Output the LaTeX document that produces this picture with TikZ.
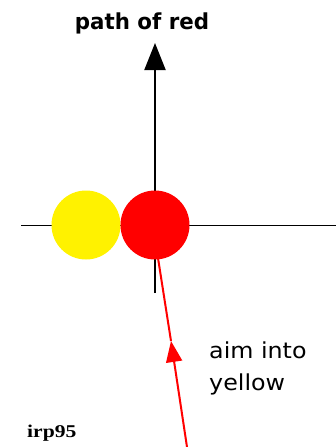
\documentclass[tikz,border=0pt]{standalone}
\usepackage{fontspec}
\setmainfont{DejaVu Sans}
\newfontfamily\serifbold{Liberation Serif}
\usetikzlibrary{arrows.meta}
\begin{document}
\begin{tikzpicture}[x=1pt,y=-1pt,
  ball/.style={circle,inner sep=0pt,minimum size=69pt},
  lbl/.style={inner sep=0pt,align=left},
  redline/.style={draw=red,line width=2pt}]
\useasboundingbox (0,0) rectangle (336,447);
\draw[line width=1pt] (21,225) -- (336,225);
\node[ball,fill=yellow] (yellow) at (86,225) {};
\coordinate (vbot) at (155,293);
\coordinate (vtop) at (155,43);
\draw[line width=2pt,-{Triangle[length=27pt,width=21pt]}] (vbot) -- (vtop);
\node[ball,fill=red] (red) at (155,225) {};
\coordinate (rstart) at (187,447);
\coordinate (rmid) at (171,341);
\coordinate (rend) at (158,258);
\draw[redline,-{Triangle[length=21pt,width=16pt]}] (rstart) -- (rmid);
\draw[redline] (rmid) -- (rend);
\node[lbl,font=\bfseries\fontsize{22}{26}\selectfont,xscale=0.97,anchor=base] (pathlbl) at (142,29) {path of red};
\node[lbl,font=\fontsize{22}{32}\selectfont,xscale=1.08,anchor=base west] (aimlbl) at (209,390) {aim into\\yellow};
\node[inner sep=0pt,anchor=base west,font=\serifbold\bfseries\fontsize{18}{20}\selectfont,xscale=1.2] (irp) at (27,437) {irp95};
\end{tikzpicture}
\end{document}
